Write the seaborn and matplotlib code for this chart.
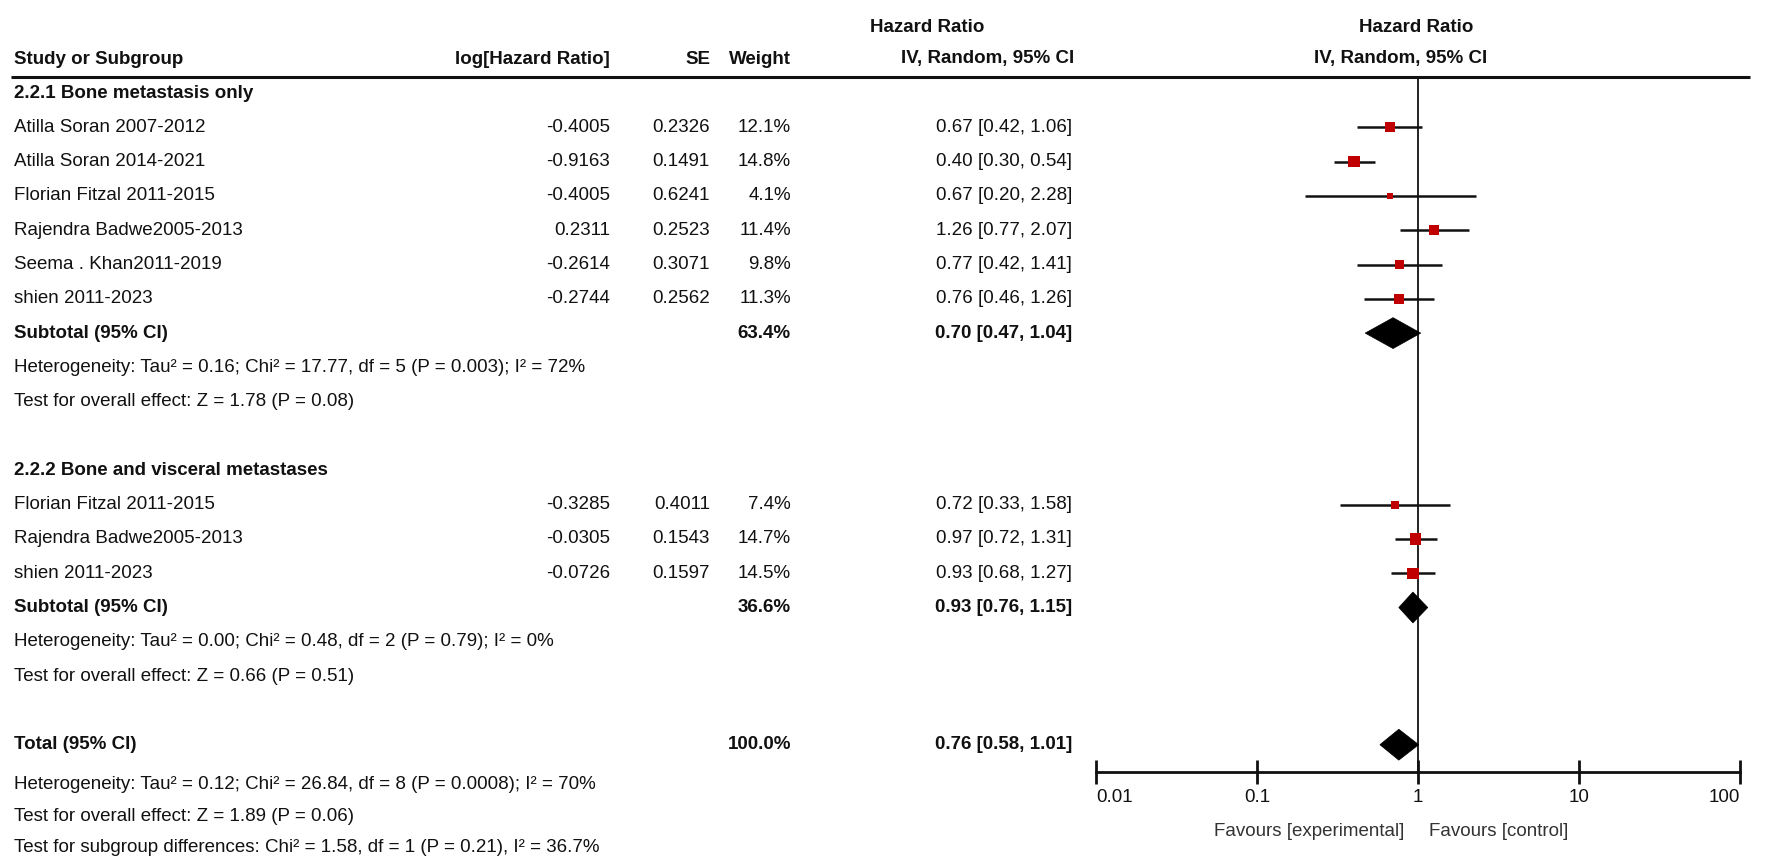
import matplotlib
matplotlib.use("Agg")
import matplotlib.pyplot as plt
from matplotlib import font_manager
from matplotlib.patches import Polygon
from matplotlib.ticker import NullLocator
import pandas as pd
import seaborn as sns

# study data, subgroup 2.2.1
g1_names = ["Atilla Soran 2007-2012", "Atilla Soran 2014-2021", "Florian Fitzal 2011-2015",
            "Rajendra Badwe2005-2013", "Seema . Khan2011-2019", "shien 2011-2023"]
g1_loghr = [-0.4005, -0.9163, -0.4005, 0.2311, -0.2614, -0.2744]
g1_se = [0.2326, 0.1491, 0.6241, 0.2523, 0.3071, 0.2562]
g1_weight = [12.1, 14.8, 4.1, 11.4, 9.8, 11.3]
g1_hr = [0.67, 0.40, 0.67, 1.26, 0.77, 0.76]
g1_lo = [0.42, 0.30, 0.20, 0.77, 0.42, 0.46]
g1_hi = [1.06, 0.54, 2.28, 2.07, 1.41, 1.26]

# subgroup 2.2.2
g2_names = ["Florian Fitzal 2011-2015", "Rajendra Badwe2005-2013", "shien 2011-2023"]
g2_loghr = [-0.3285, -0.0305, -0.0726]
g2_se = [0.4011, 0.1543, 0.1597]
g2_weight = [7.4, 14.7, 14.5]
g2_hr = [0.72, 0.97, 0.93]
g2_lo = [0.33, 0.72, 0.68]
g2_hi = [1.58, 1.31, 1.27]

# pooled estimates: subtotal 1, subtotal 2, total
pool_labels = ["Subtotal (95% CI)", "Subtotal (95% CI)", "Total (95% CI)"]
pool_weight = [63.4, 36.6, 100.0]
pool_hr = [0.70, 0.93, 0.76]
pool_lo = [0.47, 0.76, 0.58]
pool_hi = [1.04, 1.15, 1.01]

stats_lines = [
    "Heterogeneity: Tau\u00b2 = 0.16; Chi\u00b2 = 17.77, df = 5 (P = 0.003); I\u00b2 = 72%",
    "Test for overall effect: Z = 1.78 (P = 0.08)",
    "Heterogeneity: Tau\u00b2 = 0.00; Chi\u00b2 = 0.48, df = 2 (P = 0.79); I\u00b2 = 0%",
    "Test for overall effect: Z = 0.66 (P = 0.51)",
    "Heterogeneity: Tau\u00b2 = 0.12; Chi\u00b2 = 26.84, df = 8 (P = 0.0008); I\u00b2 = 70%",
    "Test for overall effect: Z = 1.89 (P = 0.06)",
    "Test for subgroup differences: Chi\u00b2 = 1.58, df = 1 (P = 0.21), I\u00b2 = 36.7%",
]
group_titles = ["2.2.1 Bone metastasis only", "2.2.2 Bone and visceral metastases"]
tick_vals = [0.01, 0.1, 1, 10, 100]
tick_text = ["0.01", "0.1", "1", "10", "100"]

# row layout
g1_rows = [1, 2, 3, 4, 5, 6]
g2_rows = [12, 13, 14]
pool_rows = [7, 15, 19]
stats_rows = [8, 9, 16, 17, 20.15, 21.1, 22]
title_rows = [0, 11]

sns.set_theme(style="white")
names = {f.name for f in font_manager.fontManager.ttflist}
fam = "Liberation Sans Narrow" if "Liberation Sans Narrow" in names else "Liberation Sans"
plt.rcParams["font.family"] = [fam, "DejaVu Sans"]
FS = 13.5

W, H = 1772, 868
y0, step = 93.0, 34.3


def row_of(px):
    return (px - y0) / step


fig = plt.figure(figsize=(W / 100, H / 100), dpi=100)
tab = fig.add_axes([0, 0, 1, 1])
tab.set_xlim(0, W)
tab.set_ylim(row_of(H), row_of(0))
tab.axis("off")

X_NAME, X_LOG, X_SE, X_W, X_CI = 14, 610, 710, 791, 1072
ink = "#111111"


def txt(x, r, s, ha="left", bold=False, **kw):
    tab.text(x, r, s, ha=ha, va="center", fontsize=kw.pop("fs", FS),
             fontweight="bold" if bold else "normal", color=kw.pop("color", ink), **kw)


# headers
txt(927, row_of(27), "Hazard Ratio", ha="center", bold=True)
txt(1416, row_of(27), "Hazard Ratio", ha="center", bold=True)
hr_row = row_of(59)
txt(X_NAME, hr_row, "Study or Subgroup", bold=True)
txt(X_LOG, hr_row, "log[Hazard Ratio]", ha="right", bold=True)
txt(X_SE, hr_row, "SE", ha="right", bold=True)
txt(X_W, hr_row, "Weight", ha="right", bold=True)
txt(X_CI + 2, hr_row, "IV, Random, 95% CI", ha="right", bold=True)
txt(1401, hr_row, "IV, Random, 95% CI", ha="center", bold=True)
tab.hlines(row_of(77), 11, 1750, color=ink, lw=2.2)

for r, t in zip(title_rows, group_titles):
    txt(X_NAME, r, t, bold=True)

for rows, nm, lg, se, w, hr, lo, hi in [
    (g1_rows, g1_names, g1_loghr, g1_se, g1_weight, g1_hr, g1_lo, g1_hi),
    (g2_rows, g2_names, g2_loghr, g2_se, g2_weight, g2_hr, g2_lo, g2_hi),
]:
    for i, r in enumerate(rows):
        txt(X_NAME, r, nm[i])
        txt(X_LOG, r, f"{lg[i]:.4f}", ha="right")
        txt(X_SE, r, f"{se[i]:.4f}", ha="right")
        txt(X_W, r, f"{w[i]:.1f}%", ha="right")
        txt(X_CI, r, f"{hr[i]:.2f} [{lo[i]:.2f}, {hi[i]:.2f}]", ha="right")

for i, r in enumerate(pool_rows):
    txt(X_NAME, r, pool_labels[i], bold=True)
    txt(X_W, r, f"{pool_weight[i]:.1f}%", ha="right", bold=True)
    txt(X_CI, r, f"{pool_hr[i]:.2f} [{pool_lo[i]:.2f}, {pool_hi[i]:.2f}]", ha="right", bold=True)

for r, s in zip(stats_rows, stats_lines):
    txt(X_NAME, r, s)

# forest panel
ax = fig.add_axes([1096 / W, 1 - 772 / H, (1740 - 1096) / W, (772 - 77) / H])
ax.set_xscale("log")
ax.set_xlim(0.01, 100)
ax.set_ylim(row_of(772), row_of(77))
ax.patch.set_alpha(0)

studies = pd.DataFrame({
    "row": g1_rows + g2_rows,
    "hr": g1_hr + g2_hr,
    "lo": g1_lo + g2_lo,
    "hi": g1_hi + g2_hi,
    "weight": g1_weight + g2_weight,
})
ax.axvline(1, color=ink, lw=1.3, zorder=1)
ax.hlines(studies["row"], studies["lo"], studies["hi"], color=ink, lw=1.8, zorder=2)
sns.scatterplot(data=studies, x="hr", y="row", size="weight", sizes=(18, 66),
                size_norm=(4.1, 14.8), marker="s", color="#c00000", linewidth=0,
                legend=False, ax=ax, zorder=3)

for r, c, lo, hi in zip(pool_rows, pool_hr, pool_lo, pool_hi):
    ax.add_patch(Polygon([(lo, r), (c, r - 0.45), (hi, r), (c, r + 0.45)],
                         closed=True, facecolor="black", edgecolor="black", lw=0.5, zorder=3))

for s in ["top", "left", "right"]:
    ax.spines[s].set_visible(False)
ax.spines["bottom"].set_linewidth(2)
ax.spines["bottom"].set_color(ink)
ax.set_yticks([])
ax.set_xticks(tick_vals)
ax.set_xticklabels(tick_text)
ax.xaxis.set_minor_locator(NullLocator())
ax.tick_params(axis="x", which="major", direction="inout", length=17, width=2,
               color=ink, labelsize=FS, labelcolor=ink, pad=4, bottom=True)
labs = ax.get_xticklabels()
labs[0].set_ha("left")
labs[-1].set_ha("right")
ax.set_xlabel("")
ax.set_ylabel("")
ax.grid(False)

txt(1404, row_of(831), "Favours [experimental]", ha="right", color="#333333")
txt(1429, row_of(831), "Favours [control]", ha="left", color="#333333")

fig.savefig("out.png", dpi=100, facecolor="white")
